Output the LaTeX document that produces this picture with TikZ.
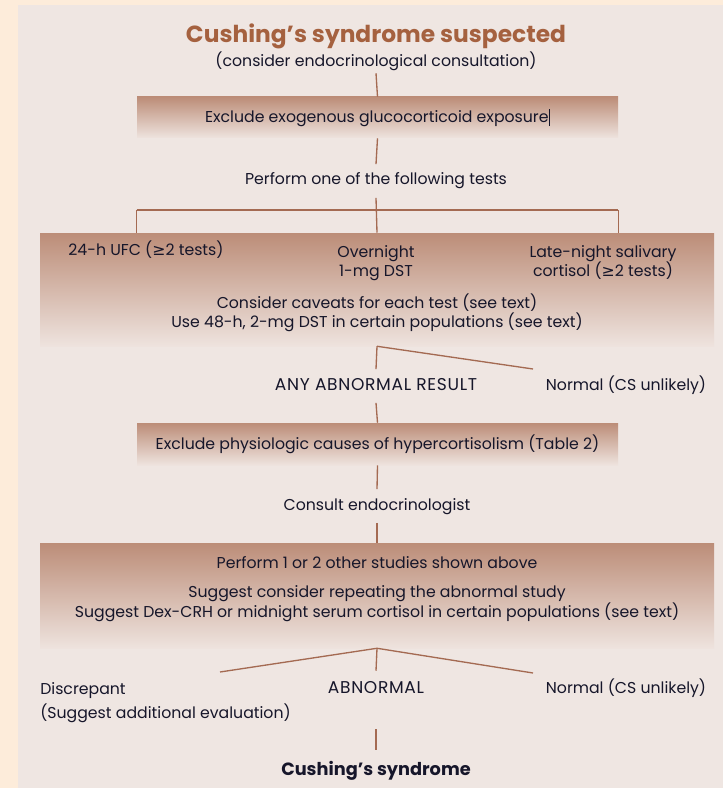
\documentclass[tikz,border=0pt]{standalone}
\usepackage{fontspec}
\setmainfont{Poppins}
\newfontfamily\symf{DejaVu Sans}
\usetikzlibrary{shadings}
\definecolor{outerbg}{HTML}{FDECDA}
\definecolor{panelbg}{HTML}{EFE6E2}
\definecolor{boxtop}{HTML}{BC8D78}
\definecolor{boxbot}{HTML}{EEE3DE}
\definecolor{linec}{HTML}{A46A52}
\definecolor{titlec}{HTML}{A5613F}
\definecolor{txtc}{HTML}{16162A}
\newcommand{\mygeq}{{\symf ≥}}
\tikzset{
  lbl/.style={text=txtc, font=\fontsize{11.8}{15}\selectfont, inner xsep=0pt, inner ysep=6.5pt,
    text height=9pt, text depth=3pt},
  capslbl/.style={lbl, font=\fontsize{12.8}{15}\selectfont\addfontfeature{LetterSpace=4}},
  boxnode/.style={inner sep=0pt, top color=boxtop, bottom color=boxbot, draw=none,
    text=txtc, font=\fontsize{11.8}{15}\selectfont},
  conn/.style={draw=linec, line width=1pt}
}
\begin{document}
\begin{tikzpicture}[x=0.75pt,y=-0.75pt]
\useasboundingbox (0,0) rectangle (723,788);
\fill[outerbg] (0,0) rectangle (723,788);
\fill[panelbg] (18,5) rectangle (723,788);

% title
\node[text=titlec, font=\fontsize{17.5}{20}\bfseries, inner sep=0pt] (title) at (376,36) {Cushing’s syndrome suspected};
\node[lbl, inner ysep=1.5pt] (sub) at (376,63) {(consider endocrinological consultation)};

% box 1
\node[boxnode, minimum width=360.75pt, minimum height=30.75pt] (box1) at (377.5,117.5)
  {Exclude exogenous glucocorticoid exposure\hspace{0.5pt}\rule[-3pt]{0.5pt}{13pt}};
\node[lbl] (perform) at (376,181) {Perform one of the following tests};

% box 2
\node[boxnode, minimum width=505.5pt, minimum height=84.75pt] (box2) at (377,289.5) {};
\node[lbl] (t1) at (146,251) {24-h UFC (\mygeq2 tests)};
\node[lbl] (t2a) at (376,253) {Overnight};
\node[lbl] (t2b) at (376,272) {1-mg DST};
\node[lbl] (t3a) at (603,253) {Late-night salivary};
\node[lbl] (t3b) at (603,272) {cortisol (\mygeq2 tests)};
\node[lbl] (t4a) at (377,304) {Consider caveats for each test (see text)};
\node[lbl] (t4b) at (377,323) {Use 48-h, 2-mg DST in certain populations (see text)};

% results 1
\node[capslbl] (any) at (376,386) {ANY ABNORMAL RESULT};
\node[lbl, inner xsep=8pt] (normal1) at (626,386) {Normal (CS unlikely)};
\coordinate (dtop) at (533,369);

% box 3
\node[boxnode, minimum width=360.75pt, minimum height=31.5pt] (box3) at (377.5,444)
  {Exclude physiologic causes of hypercortisolism (Table 2)};
\node[lbl] (consult) at (377,506) {Consult endocrinologist};

% box 4
\node[boxnode, minimum width=505.5pt, minimum height=78.75pt] (box4) at (377,595.5) {};
\node[lbl] (p4a) at (377,564) {Perform 1 or 2 other studies shown above};
\node[lbl] (p4b) at (377,593) {Suggest consider repeating the abnormal study};
\node[lbl] (p4c) at (377,613) {Suggest Dex-CRH or midnight serum cortisol in certain populations (see text)};

% results 2
\node[lbl, anchor=west] (disc1) at (40,690) {Discrepant};
\node[lbl, anchor=west] (disc2) at (40,714) {(Suggest additional evaluation)};
\node[capslbl, inner ysep=7.5pt] (abn) at (376,689) {ABNORMAL};
\node[lbl] (normal2) at (626,689) {Normal (CS unlikely)};
\coordinate (dl) at (220,672);
\coordinate (dr) at (533,673);
\node[lbl, font=\fontsize{13.3}{15}\bfseries] (cs) at (376,771) {Cushing’s syndrome};

% connectors
\draw[conn] (sub.south) -- (box1.north);
\draw[conn] (box1.south) -- (perform.north);
\draw[conn] (perform.south) -- (box2.north);
\coordinate (hl) at (box1.west |- 0,210);
\coordinate (hr) at (box1.east |- 0,210);
\draw[conn] (hl) -- (hr);
\draw[conn] (hl) -- (hl |- box2.north);
\draw[conn] (hr) -- (hr |- box2.north);
\draw[conn] (box2.south) -- (any.north);
\draw[conn] (box2.south) -- (dtop);
\draw[conn] (any.south) -- (box3.north);
\draw[conn] (box3.south) -- (consult.north);
\draw[conn] (consult.south) -- (box4.north);
\draw[conn] (box4.south) -- (abn.north);
\draw[conn] (box4.south) -- (dl);
\draw[conn] (box4.south) -- (dr);
\draw[conn, shorten <=16.5pt, shorten >=3pt] (abn.south) -- (cs.north);
\end{tikzpicture}
\end{document}
